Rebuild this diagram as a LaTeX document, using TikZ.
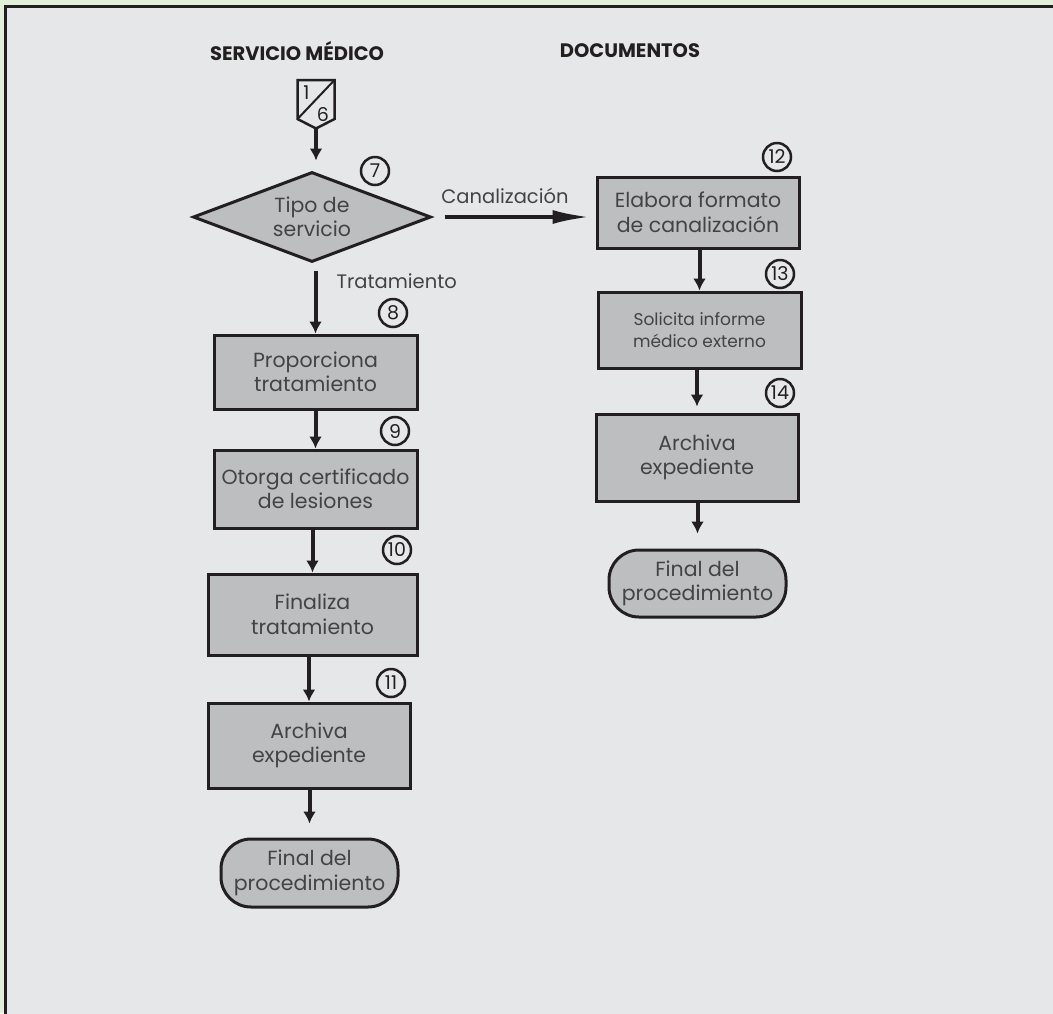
\documentclass[tikz,border=0pt]{standalone}
\usepackage{fontspec}
\setmainfont{Poppins}
\usetikzlibrary{arrows.meta,shapes.geometric}
\definecolor{pagegreen}{HTML}{E2EFD9}
\definecolor{panelgray}{HTML}{E6E7E8}
\definecolor{boxgray}{HTML}{BCBEC0}
\definecolor{inkdark}{HTML}{231F20}
\definecolor{textgray}{HTML}{434345}
\begin{document}
\begin{tikzpicture}[x=1pt,y=-1pt,
  every node/.style={text=textgray},
  process/.style={draw=inkdark,line width=3pt,fill=boxgray,rectangle,
    inner sep=0pt,align=center,font=\fontsize{20.5}{24.5}\selectfont},
  decision/.style={draw=inkdark,line width=3pt,fill=boxgray,diamond,
    inner sep=0pt,align=center,font=\fontsize{20.5}{24.5}\selectfont},
  terminal/.style={draw=inkdark,line width=3pt,fill=boxgray,rectangle,
    rounded corners=30pt,inner sep=0pt,align=center,font=\fontsize{20.5}{24.5}\selectfont},
  stepnum/.style={draw=inkdark,line width=2.5pt,circle,minimum size=28pt,
    inner sep=0pt,text=inkdark,font=\fontsize{19}{19}\selectfont},
  header/.style={text=inkdark,font=\fontsize{19.5}{19.5}\selectfont\bfseries},
  flow/.style={draw=inkdark,line width=4pt,-{Latex[length=12pt,width=13pt]}},
  longflow/.style={draw=inkdark,line width=4pt,-{Latex[length=38pt,width=14pt]}},
  lbl/.style={font=\fontsize{19.5}{19.5}\selectfont}]
% frame
\useasboundingbox (0,0) rectangle (1053,1013);
\fill[pagegreen] (0,0) rectangle (1053,1013);
\filldraw[fill=panelgray,draw=inkdark,line width=3pt] (5.5,6) rectangle (1070,1030);

% column headers
\node[header] (h1) at (297,51) {SERVICIO MÉDICO};
\node[header] (h2) at (630,51) {DOCUMENTOS};

% off-page connector 1/6
\filldraw[fill=panelgray,draw=inkdark,line width=2.5pt]
  (297.5,80) -- (334.5,80) -- (334.5,119) -- (316,128.5) -- (297.5,119) -- cycle;
\draw[inkdark,line width=2pt] (297.5,119) -- (334.5,80);
\node[text=inkdark,font=\fontsize{19}{19}\selectfont] (c1) at (306.5,93) {1};
\node[text=inkdark,font=\fontsize{19}{19}\selectfont] (c6) at (323,115) {6};
\coordinate (conn) at (316,128);

% left column
\node[decision,minimum width=238pt,minimum height=90pt,aspect=2.64] (d7) at (312,217) {Tipo de\\servicio};
\node[process,minimum width=203pt,minimum height=74pt] (b8) at (315.5,372) {Proporciona\\tratamiento};
\node[process,minimum width=203pt,minimum height=78pt] (b9) at (315.5,489) {Otorga certificado\\de lesiones};
\node[process,minimum width=209pt,minimum height=81pt] (b10) at (312.5,614.5) {Finaliza\\tratamiento};
\node[process,minimum width=202pt,minimum height=85pt] (b11) at (309,745.5) {Archiva\\expediente};
\node[terminal,minimum width=177pt,minimum height=68pt] (e1) at (309.5,873) {Final del\\procedimiento};

% right column
\node[process,minimum width=202pt,minimum height=71pt] (b12) at (698,212.5) {Elabora formato\\de canalización};
\node[process,minimum width=203pt,minimum height=76pt,font=\fontsize{17}{22}\selectfont] (b13) at (699.5,330) {Solicita informe\\médico externo};
\node[process,minimum width=202pt,minimum height=87pt] (b14) at (697,457.5) {Archiva\\expediente};
\node[terminal,minimum width=177pt,minimum height=67pt] (e2) at (697.5,583.5) {Final del\\procedimiento};

% step numbers
\node[stepnum] (n7) at (375,171) {7};
\node[stepnum] (n8) at (393,313) {8};
\node[stepnum] (n9) at (395,431) {9};
\node[stepnum] (n10) at (397,550) {10};
\node[stepnum] (n11) at (391,683) {11};
\node[stepnum] (n12) at (777,157) {12};
\node[stepnum] (n13) at (780,274) {13};
\node[stepnum] (n14) at (780,393) {14};

% connectors
\draw[flow,shorten >=10pt] (conn) -- (conn |- d7.north);
\draw[flow,shorten <=7pt] (d7.south -| b8.north) -- (b8.north);
\draw[longflow,shorten <=12pt,shorten >=5pt] (d7.east) -- (d7.east -| b12.west);
\draw[flow] (b8.south) -- (b9.north);
\draw[flow] (b9.south -| b10.north) -- (b10.north);
\draw[flow] (b10.south -| b11.north) -- (b11.north);
\draw[flow,shorten >=14pt] (b11.south -| e1.north) -- (e1.north);
\draw[flow] (b12.south -| b13.north) -- (b13.north);
\draw[flow,shorten >=6pt] (b13.south -| b14.north) -- (b14.north);
\draw[flow,shorten >=15pt] (b14.south -| e2.north) -- (e2.north);

% branch labels
\node[lbl] (lc) at (505,196) {Canalización};
\node[lbl,anchor=west] (lt) at (333,281) {Tratamiento};
\end{tikzpicture}
\end{document}
